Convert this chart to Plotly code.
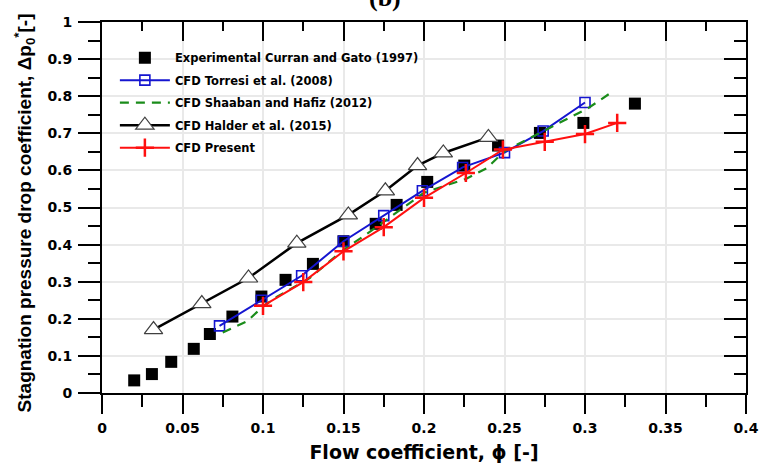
import plotly.graph_objects as go

# Experimental Curran and Gato (1997)
exp_x = [0.020, 0.031, 0.043, 0.057, 0.067, 0.081, 0.099, 0.114, 0.131, 0.150, 0.170,
         0.183, 0.202, 0.225, 0.246, 0.272, 0.299, 0.331]
exp_y = [0.034, 0.051, 0.084, 0.119, 0.159, 0.206, 0.260, 0.305, 0.348, 0.409, 0.456,
         0.507, 0.569, 0.613, 0.667, 0.701, 0.728, 0.780]

# CFD Torresi et al. (2008)
tor_x = [0.073, 0.099, 0.124, 0.150, 0.175, 0.199, 0.224, 0.250, 0.274, 0.300]
tor_y = [0.181, 0.250, 0.316, 0.409, 0.478, 0.545, 0.608, 0.648, 0.706, 0.783]

# CFD Shaaban and Hafiz (2012)
sha_x = [0.075, 0.090, 0.100, 0.109, 0.129, 0.150, 0.164, 0.175, 0.200, 0.226, 0.239, 0.250, 0.270, 0.302, 0.315]
sha_y = [0.163, 0.193, 0.233, 0.260, 0.310, 0.386, 0.427, 0.462, 0.540, 0.577, 0.606, 0.652, 0.696, 0.768, 0.806]

# CFD Halder et al. (2015)
hal_x = [0.032, 0.062, 0.091, 0.121, 0.153, 0.176, 0.196, 0.212, 0.240]
hal_y = [0.171, 0.241, 0.310, 0.404, 0.480, 0.545, 0.613, 0.647, 0.689]

# CFD Present
pre_x = [0.100, 0.125, 0.150, 0.175, 0.200, 0.226, 0.249, 0.275, 0.300, 0.320]
pre_y = [0.235, 0.299, 0.382, 0.447, 0.526, 0.593, 0.656, 0.677, 0.698, 0.728]

x_title = "Flow coefficient, ϕ [-]"
y_title = "Stagnation pressure drop coefficient, Δp<sub>0</sub><sup>*</sup>[-]"
panel_label = "(b)"

WIDE = "DejaVu Sans, sans-serif"
ARIAL = "Liberation Sans, Arial, sans-serif"

fig = go.Figure()
fig.add_trace(go.Scatter(
    x=exp_x, y=exp_y, mode="markers", name="Experimental Curran and Gato (1997)",
    legendgroup="a",
    marker=dict(symbol="square", size=12, color="black")))
fig.add_trace(go.Scatter(
    x=tor_x, y=tor_y, mode="lines+markers", name="CFD Torresi et al. (2008)",
    legendgroup="b",
    line=dict(color="#1515d0", width=2),
    marker=dict(symbol="square-open", size=10, color="#1515d0", line=dict(width=1.6))))
fig.add_trace(go.Scatter(
    x=sha_x, y=sha_y, mode="lines", name="CFD Shaaban and Hafiz (2012)",
    legendgroup="c",
    line=dict(color="#1a8c1a", width=2.2, dash="9px,7px")))
fig.add_trace(go.Scatter(
    x=hal_x, y=hal_y, mode="lines+markers", name="CFD Halder et al. (2015)",
    legendgroup="d",
    line=dict(color="black", width=2.5),
    marker=dict(symbol="triangle-up", size=16, color="white", line=dict(color="#404040", width=1.2))))
fig.add_trace(go.Scatter(
    x=pre_x, y=pre_y, mode="lines+markers", name="CFD Present",
    legendgroup="e",
    line=dict(color="#ff1010", width=2),
    marker=dict(symbol="cross-thin", size=13, color="#ff1010", line=dict(color="#ff1010", width=2.5))))

# invisible trace to activate mirror axes
fig.add_trace(go.Scatter(x=[0], y=[0], xaxis="x2", yaxis="y2", mode="markers",
                         marker=dict(opacity=0), showlegend=False, hoverinfo="skip"))

tickfont = dict(family=WIDE, size=14, color="black", weight="bold")

fig.update_layout(
    width=763, height=463,
    margin=dict(l=102, r=17, t=22, b=70),
    paper_bgcolor="white", plot_bgcolor="white",
    font=dict(family=ARIAL, color="black"),
    showlegend=True,
    legend=dict(x=0.02, y=0.943, xanchor="left", yanchor="top",
                bgcolor="rgba(0,0,0,0)", borderwidth=0, itemwidth=50,
                font=dict(family=WIDE, size=11.5, color="black", weight="bold"),
                tracegroupgap=3.5),
    xaxis=dict(range=[0, 0.4], dtick=0.05, tick0=0, automargin=False,
               showline=True, linewidth=2, linecolor="black",
               ticks="outside", ticklen=19, tickwidth=2, tickcolor="black",
               minor=dict(dtick=0.025, ticks="outside", ticklen=12, tickwidth=2, tickcolor="black", showgrid=False),
               showgrid=True, gridcolor="#e9e9e9", gridwidth=1.5, zeroline=False,
               tickfont=tickfont, ticklabeloverflow="allow", ticklabelstandoff=2,
               title=dict(text=x_title, font=dict(family=WIDE, size=19, color="black", weight="bold"), standoff=11)),
    yaxis=dict(range=[0, 1], dtick=0.1, tick0=0, automargin=False,
               showline=True, linewidth=2, linecolor="black",
               ticks="outside", ticklen=22, tickwidth=2, tickcolor="black",
               minor=dict(dtick=0.05, ticks="outside", ticklen=12, tickwidth=2, tickcolor="black", showgrid=False),
               showgrid=True, gridcolor="#e9e9e9", gridwidth=1.5, zeroline=False,
               tickfont=tickfont, ticklabelstandoff=3),
    xaxis2=dict(range=[0, 0.4], overlaying="x", side="top", anchor="y", matches="x", automargin=False,
                dtick=0.05, tick0=0, showline=True, linewidth=2, linecolor="black",
                ticks="inside", ticklen=19, tickwidth=2, tickcolor="black",
                minor=dict(dtick=0.025, ticks="inside", ticklen=9, tickwidth=2, tickcolor="black", showgrid=False),
                showticklabels=False, showgrid=False, zeroline=False),
    yaxis2=dict(range=[0, 1], overlaying="y", side="right", anchor="x", matches="y", automargin=False,
                dtick=0.1, tick0=0, showline=True, linewidth=2, linecolor="black",
                ticks="inside", ticklen=22, tickwidth=2, tickcolor="black",
                minor=dict(dtick=0.05, ticks="inside", ticklen=12, tickwidth=2, tickcolor="black", showgrid=False),
                showticklabels=False, showgrid=False, zeroline=False),
    annotations=[
        dict(text=panel_label, xref="paper", yref="paper", x=0.44, y=1.022,
             xanchor="center", yanchor="bottom", showarrow=False,
             font=dict(family="Liberation Serif, serif", size=26, color="black", weight="bold")),
        dict(text=y_title, xref="paper", yref="paper", x=-0.12, y=0.486,
             xanchor="center", yanchor="middle", textangle=-90, showarrow=False,
             font=dict(family=ARIAL, size=19, color="black", weight="bold")),
    ],
)

fig.write_html("out.html", config={"displayModeBar": False},
               post_script="document.body.style.margin='0';")
